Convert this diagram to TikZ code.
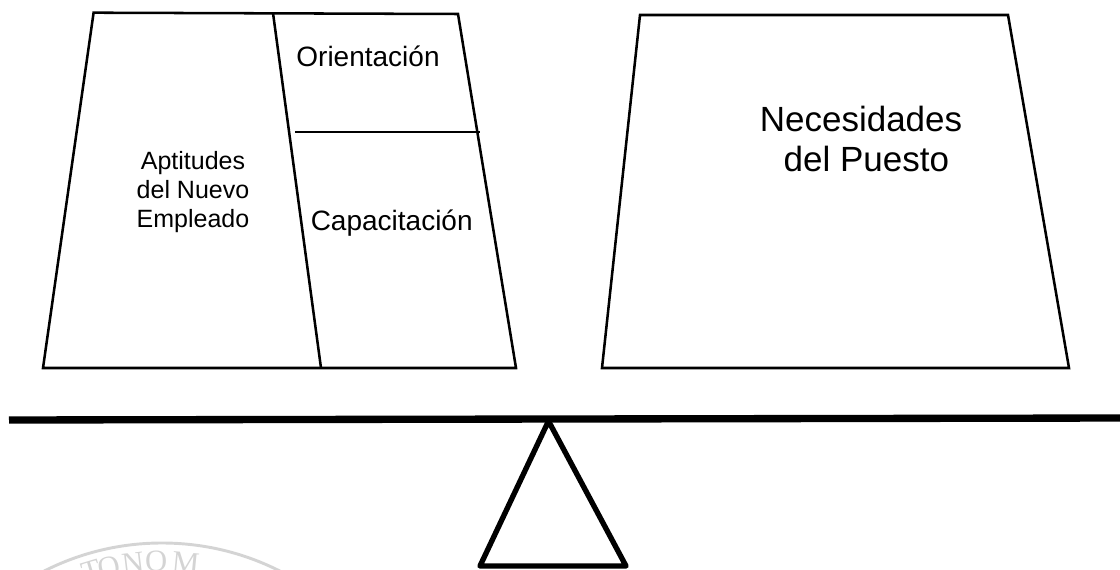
\documentclass[tikz,border=0pt]{standalone}
\usepackage{fontspec}
\setmainfont{Liberation Sans}
\newfontfamily\sealfont{Liberation Serif}
\usetikzlibrary{calc}
\definecolor{sealgray}{RGB}{212,212,212}

\begin{document}
\begin{tikzpicture}[x=0.75pt,y=-0.75pt,
		every node/.style={inner sep=0pt},
		block/.style={draw,line width=1.9pt,line join=miter},
		divider/.style={draw,line width=1.5pt},
		beam/.style={draw,line width=5.5pt},
		fulcrum/.style={draw,line width=4pt,line join=round},
		small/.style={font=\fontsize{18.75}{21.75}\selectfont,align=center},
		medium/.style={font=\fontsize{21}{25}\selectfont},
		large/.style={font=\fontsize{26.25}{30.5}\selectfont,align=center},
		seal/.style={sealgray,font=\sealfont\fontsize{23}{23}\selectfont}]
		\useasboundingbox (0,0) rectangle (1120,570);
		\clip (0,0) rectangle (1120,570);
		
		% watermark
		\coordinate (sealc) at (162,804);
		\draw[sealgray,line width=2.2pt] (sealc) circle[radius=261];
		\foreach \ch/\a in {T/-16.8,O/-12.6,N/-6.9,O/-1.4,M/5.6}
			\node[seal,anchor=north,rotate={0-\a}] at ($(sealc)+({253*sin(\a)},{-253*cos(\a)})$) {\ch};
		
		% left pan
		\coordinate (aTL) at (93.6,12.7);
		\coordinate (aTR) at (458,14);
		\coordinate (aBR) at (516,368);
		\coordinate (aBL) at (43,368);
		\coordinate (aTD) at (273,13);
		\coordinate (aBD) at (321,368);
		\coordinate (aML) at (295,132);
		\coordinate (aMR) at (480,132);
		\draw[block] (aTL) -- (aTR) -- (aBR) -- (aBL) -- cycle;
		\draw[block] (aTD) -- (aBD);
		\draw[divider] (aML) -- (aMR);
		
		\node[small] (aptitudes) at (193,192.5) {Aptitudes\\del Nuevo\\Empleado};
		\node[medium,anchor=base] (orientacion) at (368,66.7) {Orientación};
		\node[medium,anchor=base] (capacitacion) at (391.7,231) {Capacitación};
		
		% right pan
		\coordinate (bTL) at (640,15);
		\coordinate (bTR) at (1008,15);
		\coordinate (bBR) at (1069,368);
		\coordinate (bBL) at (602,368);
		\draw[block] (bTL) -- (bTR) -- (bBR) -- (bBL) -- cycle;
		
		\node[large] (necesidades) at (861,139) {Necesidades\\\hspace*{8pt}del Puesto};
		
		% beam and fulcrum
		\coordinate (beamL) at (9,420);
		\coordinate (beamR) at (1125,418);
		\draw[beam] (beamL) -- (beamR);
		
		\coordinate (apex) at (548.5,421);
		\coordinate (baseL) at (480,566);
		\coordinate (baseR) at (626,566);
		\draw[fulcrum] (apex) -- (baseL) -- (baseR) -- cycle;
	\end{tikzpicture}
\end{document}
